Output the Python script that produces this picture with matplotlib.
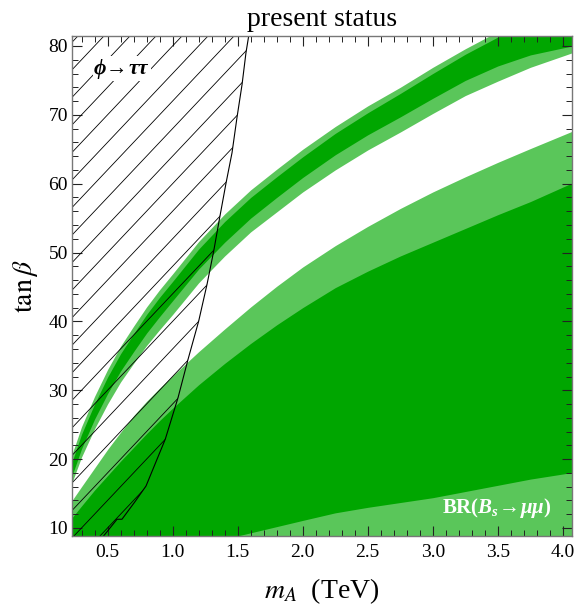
import numpy as np
import matplotlib
matplotlib.use("Agg")
import matplotlib.pyplot as plt
from matplotlib.patches import Polygon

plt.rcParams['font.family'] = ['Liberation Serif', 'DejaVu Serif']
plt.rcParams['mathtext.fontset'] = 'custom'
plt.rcParams['mathtext.it'] = 'Liberation Serif:italic:bold'
plt.rcParams['mathtext.rm'] = 'Liberation Serif:bold'
plt.rcParams['mathtext.bf'] = 'Liberation Serif:bold'
plt.rcParams['mathtext.fallback'] = 'stix'

# --- data ---
m_A = [0.227, 0.3, 0.4, 0.5, 0.6, 0.7, 0.8, 0.9, 1.0, 1.2, 1.4, 1.6, 1.8,
       2.0, 2.25, 2.5, 2.75, 3.0, 3.25, 3.5, 3.75, 4.07]

# upper narrow band (outer light edges, inner dark edges)
upper_light_top = [20.7, 24.7, 29.1, 33.0, 36.4, 39.3, 42.1, 44.6, 46.9, 51.6, 55.6,
                   59.1, 62.1, 65.0, 68.3, 71.3, 74.0, 76.9, 79.6, 82.1, 84.5, 86.6]
upper_dark_top = [19.6, 23.6, 28.0, 31.9, 35.3, 38.2, 41.0, 43.5, 45.8, 50.5, 54.5,
                  58.0, 61.0, 63.9, 67.3, 70.3, 73.1, 76.0, 78.8, 81.3, 83.7, 85.8]
upper_dark_bot = [17.6, 21.5, 25.8, 29.5, 32.8, 35.6, 38.3, 40.7, 43.0, 47.6, 51.5,
                  55.0, 58.0, 60.9, 64.2, 67.1, 69.7, 72.4, 75.0, 77.1, 78.7, 80.0]
upper_light_bot = [16.6, 20.3, 24.4, 28.0, 31.2, 33.9, 36.5, 38.8, 41.0, 45.6, 49.5,
                   53.0, 55.9, 58.8, 62.0, 64.9, 67.5, 70.2, 72.8, 74.9, 76.9, 79.0]

# lower wide band
lower_light_top = [14.0, 16.0, 18.7, 21.4, 23.9, 26.3, 28.4, 30.3, 32.1, 35.6, 38.9,
                   42.1, 45.1, 47.9, 51.0, 53.8, 56.4, 58.8, 61.0, 63.1, 65.1, 67.6]
lower_dark_top = [11.5, 13.2, 15.5, 17.6, 19.7, 21.7, 23.7, 25.6, 27.4, 30.8, 33.9,
                  36.8, 39.5, 42.0, 44.9, 47.3, 49.5, 51.5, 53.5, 55.5, 57.4, 60.1]
lower_dark_bot = [1.0, 1.6, 2.5, 3.3, 4.0, 4.7, 5.3, 5.9, 6.5, 7.5, 8.4,
                  9.3, 10.2, 11.1, 12.2, 13.0, 13.7, 14.4, 15.3, 16.2, 17.1, 18.05]

# phi -> tau tau exclusion boundary
tau_m = [1.585, 1.564, 1.534, 1.495, 1.457, 1.411, 1.362, 1.316, 1.265, 1.201,
         1.119, 1.042, 0.944, 0.796, 0.714, 0.611, 0.573, 0.470]
tau_tb = [81.45, 79.0, 74.4, 69.6, 64.5, 60.1, 55.07, 50.2, 45.4, 40.07,
          34.5, 28.93, 22.9, 16.1, 13.9, 11.27, 11.27, 8.85]

x_ticks = [0.5, 1.0, 1.5, 2.0, 2.5, 3.0, 3.5, 4.0]
y_ticks = [10, 20, 30, 40, 50, 60, 70, 80]

xmin, xmax = 0.227, 4.07
ymin, ymax = 8.84, 81.45

dark = '#00a600'
light = '#5ac65a'

fig = plt.figure(figsize=(5.77, 6.07), dpi=100)
ax = fig.add_axes([0.1248, 0.1170, 0.8665, 0.8237])

# lower band
ax.fill_between(m_A, 0, lower_light_top, color=light, lw=0)
ax.fill_between(m_A, lower_dark_bot, lower_dark_top, color=dark, lw=0)
# upper band
ax.fill_between(m_A, upper_light_bot, upper_light_top, color=light, lw=0)
ax.fill_between(m_A, upper_dark_bot, upper_dark_top, color=dark, lw=0)

# hatched exclusion region
poly_pts = list(zip(tau_m, tau_tb)) + [(xmin - 1, ymin - 5), (xmin - 1, ymax + 5), (tau_m[0], ymax + 5)]
region = Polygon(poly_pts, closed=True, facecolor='none', edgecolor='none')
ax.add_patch(region)
xs = np.array([xmin - 1, xmax + 1])
for c in np.arange(-80, 90, 4.0):
    ln, = ax.plot(xs, 20 * xs + c, color='black', lw=0.6)
    ln.set_clip_path(region)
ax.plot(tau_m, tau_tb, color='black', lw=0.8)

ax.text(0.61, 76.7, r'$\phi\!\rightarrow\!\tau\tau$', fontsize=15.5, ha='center', va='center',
        math_fontfamily='custom', bbox=dict(facecolor='white', edgecolor='none', pad=0.5))
ax.text(3.49, 12.9, r'BR($B_s\!\rightarrow\!\mu\mu$)', fontsize=15, ha='center', va='center',
        color='white', fontweight='bold', math_fontfamily='custom')

ax.set_xlim(xmin, xmax)
ax.set_ylim(ymin, ymax)
ax.set_xticks(x_ticks)
ax.set_xticklabels([f'{v:.1f}' for v in x_ticks])
ax.set_yticks(y_ticks)
ax.set_xticks(np.arange(0.3, 4.05, 0.1), minor=True)
ax.set_yticks(np.arange(10, 81, 2), minor=True)
ax.tick_params(which='both', direction='in', top=True, right=True, labelsize=14, color='#222222')
ax.tick_params(which='major', length=7, width=0.8)
ax.tick_params(which='minor', length=4, width=0.7)
ax.tick_params(axis='x', pad=6)
ax.tick_params(axis='y', pad=3)
for s in ax.spines.values():
    s.set_color('#777777')
    s.set_linewidth(1.0)

ax.set_title('present status', fontsize=20, pad=7)
ax.set_xlabel(r'$m_A$  (TeV)', fontsize=20, math_fontfamily='stix', labelpad=11)
ax.set_ylabel(r'$\tan\beta$', fontsize=20, math_fontfamily='stix', labelpad=6)

fig.savefig('out.png', dpi=100)
